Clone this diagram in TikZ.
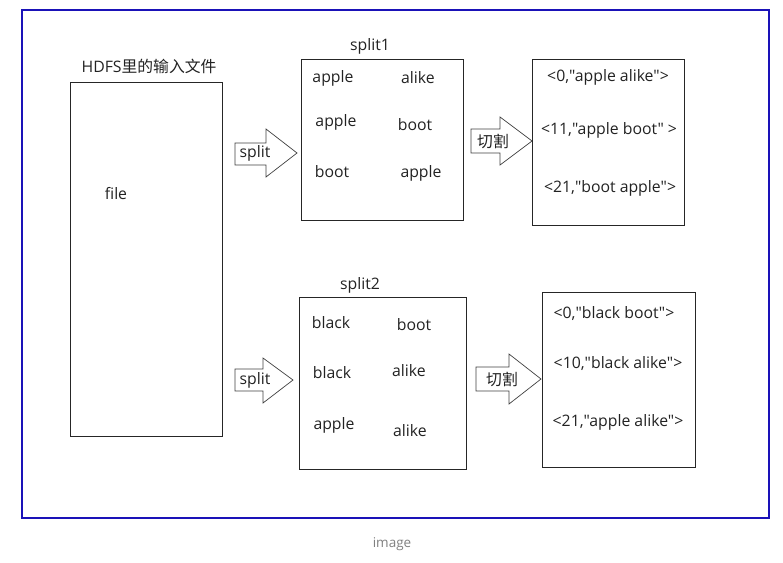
\documentclass[tikz,border=0pt]{standalone}
\usepackage{fontspec}
\setmainfont{Open Sans}[Ligatures=TeXOff]
\newfontfamily\cjk{Noto Sans CJK SC}
\definecolor{frameblue}{HTML}{1A12B8}
\definecolor{txt}{HTML}{222222}
\begin{document}
\begin{tikzpicture}[x=1pt,y=-1pt,
  every node/.style={inner sep=0pt,text=txt,font=\fontsize{15.8}{18}\selectfont},
  boxline/.style={draw=black!85,line width=0.9pt},
  blockarrow/.style={draw=black!75,line width=0.7pt,fill=white},
  captext/.style={text=black!50,font=\fontsize{13.5}{15}\selectfont}]
\useasboundingbox (0,0) rectangle (783,562);
% outer frame
\draw[frameblue,line width=2pt] (22,10) rectangle (769,518);
\node[captext] (caption) at (392,544) {image};
% input file
\draw[boxline] (70,82) rectangle (222,436);
\node (hdfs) at (149,66) {HDFS{\cjk 里的输入文件}};
\node (file) at (116,194) {file};
% split arrow 1
\draw[blockarrow] (235,143) -- (266,143) -- (266,129) -- (297,153) -- (266,177) -- (266,165) -- (235,165) -- cycle;
\node (sa1) at (255,153) {split};
% split1 box
\draw[boxline] (301,59) rectangle (463,220);
\node (s1lab) at (370,46) {split1};
\node (w11) at (333,78) {apple};
\node (w12) at (418,78) {alike};
\node (w13) at (336,122) {apple};
\node (w14) at (415,125) {boot};
\node (w15) at (332,172) {boot};
\node (w16) at (421,173) {apple};
% cut arrow 1
\draw[blockarrow] (471,129) -- (500,129) -- (500,117) -- (532,141) -- (500,165) -- (500,153) -- (471,153) -- cycle;
\node (ca1) at (493,141) {\cjk 切割};
% result box 1
\draw[boxline] (532,59) rectangle (684,225);
\node (r11) at (608,77) {<0,"apple alike">};
\node (r12) at (609,130) {<11,"apple boot" >};
\node (r13) at (610,188) {<21,"boot apple">};
% split arrow 2
\draw[blockarrow] (235,369) -- (263,369) -- (263,358) -- (293,380) -- (263,403) -- (263,391) -- (235,391) -- cycle;
\node (sa2) at (255,380) {split};
% split2 box
\draw[boxline] (299,297) rectangle (466,469);
\node (s2lab) at (360,285) {split2};
\node (w21) at (331,323) {black};
\node (w22) at (414,325) {boot};
\node (w23) at (332,373) {black};
\node (w24) at (409,371) {alike};
\node (w25) at (334,425) {apple};
\node (w26) at (410,431) {alike};
% cut arrow 2
\draw[blockarrow] (476,367) -- (509,367) -- (509,354) -- (541,379) -- (509,404) -- (509,391) -- (476,391) -- cycle;
\node (ca2) at (502,379) {\cjk 切割};
% result box 2
\draw[boxline] (542,292) rectangle (695,467);
\node (r21) at (614,314) {<0,"black boot">};
\node (r22) at (618,364) {<10,"black alike">};
\node (r23) at (618,422) {<21,"apple alike">};
\end{tikzpicture}
\end{document}
